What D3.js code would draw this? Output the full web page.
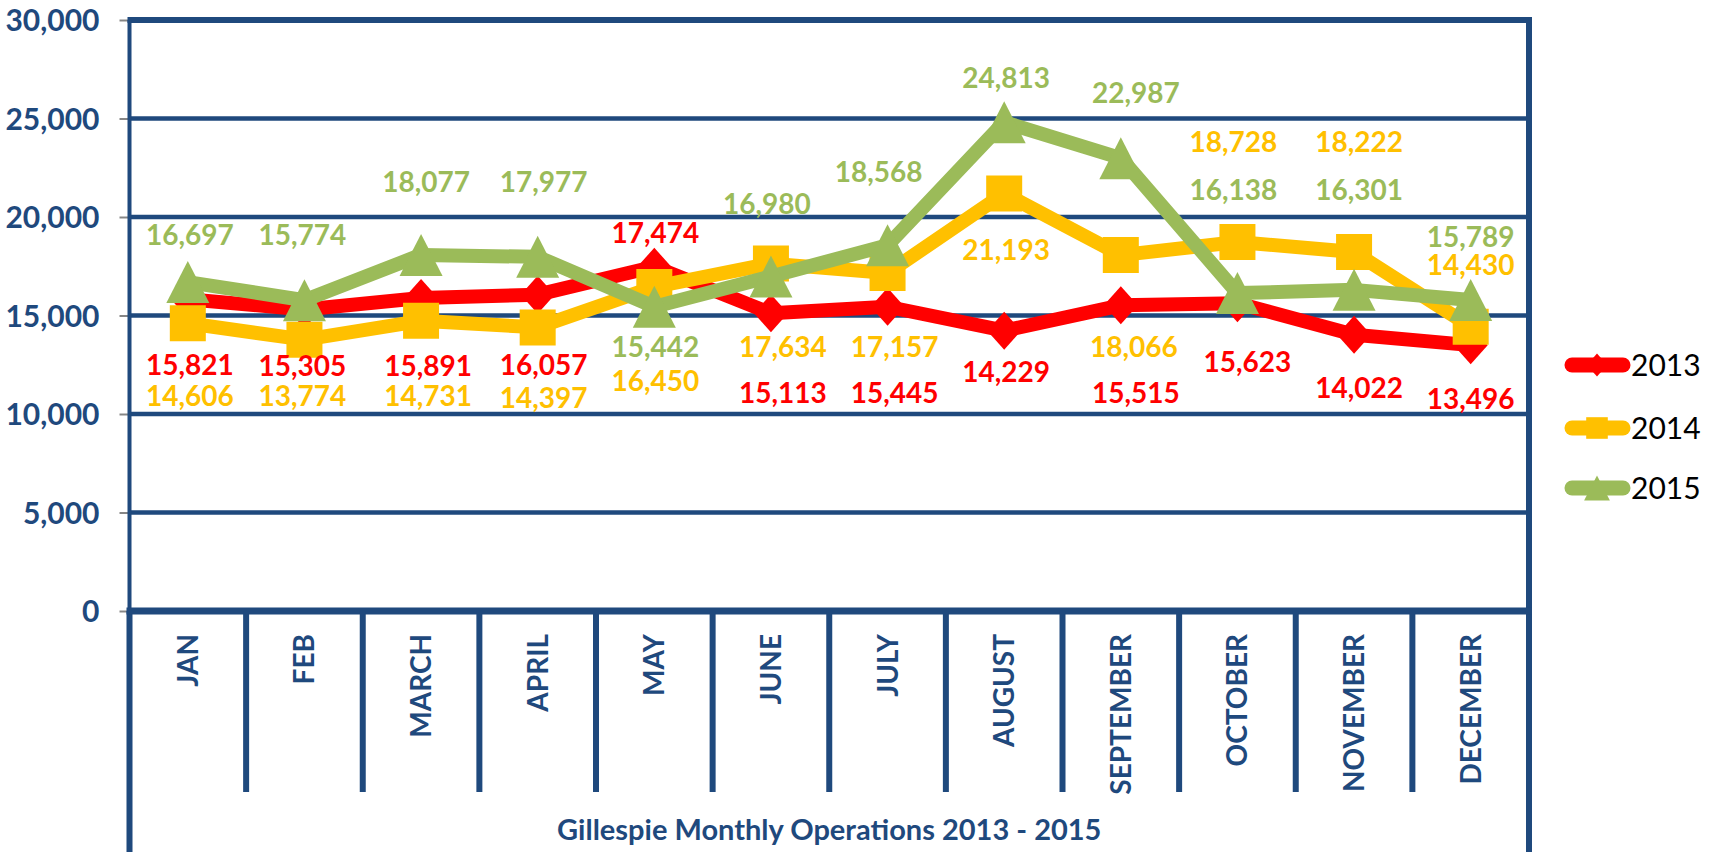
<!DOCTYPE html>
<html>
<head>
<meta charset="utf-8">
<script src="https://cdn.jsdelivr.net/npm/d3@7"></script>
<style>
  body { margin: 0; background: #fff; }
  text { font-family: Lato, "Open Sans", sans-serif; }
</style>
</head>
<body>
<div id="chart"></div>
<script>
// chart data
var months = ["JAN", "FEB", "MARCH", "APRIL", "MAY", "JUNE", "JULY", "AUGUST", "SEPTEMBER", "OCTOBER", "NOVEMBER", "DECEMBER"]
var years = ["2013", "2014", "2015"]
var ops2013 = [15821, 15305, 15891, 16057, 17474, 15113, 15445, 14229, 15515, 15623, 14022, 13496]
var ops2014 = [14606, 13774, 14731, 14397, 16450, 17634, 17157, 21193, 18066, 18728, 18222, 14430]
var ops2015 = [16697, 15774, 18077, 17977, 15442, 16980, 18568, 24813, 22987, 16138, 16301, 15789]
var yTicks = [0, 5000, 10000, 15000, 20000, 25000, 30000]
var title = "Gillespie Monthly Operations 2013 - 2015"

// where excel left each data label (px offset from its point)
var labelDy2013 = [66, 56, 68, 70, -34, 80, 86, 41, 88, 59, 53, 54]
var labelDy2014 = [73, 56, 75, 71, 94, 83, 74, 56, 92, -100, -110, -62]
var labelDy2015 = [-47, -65, -73, -75, 40, -73, -73, -44, -65, -103, -100, -63]
var labelDx2013 = [2, -2, 7, 6, 1, 12, 7, 2, 15, 10, 5, 0]
var labelDx2014 = [2, -2, 7, 6, 1, 12, 7, 2, 13, -4, 5, 0]
var labelDx2015 = [2, -2, 5, 6, 1, -4, -9, 2, 15, -4, 5, 0]

var navy = "#1F497D"
var colors = ["#FF0000", "#FFC000", "#9BBB59"]
var shapes = ["diamond", "square", "triangle"]

var series = [
    { name: years[0], values: ops2013, dx: labelDx2013, dy: labelDy2013 },
    { name: years[1], values: ops2014, dx: labelDx2014, dy: labelDy2014 },
    { name: years[2], values: ops2015, dx: labelDx2015, dy: labelDy2015 }
]

var width = 1721, height = 852
var plotL = 129.5, plotR = 1529, plotT = 20, plotB = 611

var svg = d3.select("#chart").append("svg")
    .attr("width", width)
    .attr("height", height)

var x = d3.scaleBand().domain(months).range([plotL, plotR]).padding(0)
var y = d3.scaleLinear().domain([0, 30000]).range([plotB, plotT])

function cx(i) { return x(months[i]) + x.bandwidth() / 2 }

// gridlines
svg.append("g")
    .selectAll("line")
    .data(yTicks.filter(function (d) { return d > 0 && d < 30000 }))
    .enter()
    .append("line")
    .attr("x1", plotL).attr("x2", plotR)
    .attr("y1", function (d) { return y(d) }).attr("y2", function (d) { return y(d) })
    .attr("stroke", navy)
    .attr("stroke-width", 4.5)

// y axis with little grey ticks
var yAxis = svg.append("g")
    .attr("transform", "translate(" + plotL + ",0)")
    .call(d3.axisLeft(y).tickValues(yTicks).tickSize(10).tickPadding(20).tickFormat(d3.format(",")))
yAxis.select(".domain").remove()
yAxis.selectAll(".tick line").attr("stroke", "#868686").attr("stroke-width", 2)
yAxis.selectAll(".tick text")
    .attr("fill", navy)
    .attr("font-size", 30)
    .attr("font-weight", "bold")
    .attr("dy", "0.36em")

// frame
svg.append("line").attr("x1", plotL - 2).attr("x2", plotR + 3).attr("y1", plotT).attr("y2", plotT)
    .attr("stroke", navy).attr("stroke-width", 6)
svg.append("line").attr("x1", plotL).attr("x2", plotL).attr("y1", plotT).attr("y2", plotB)
    .attr("stroke", navy).attr("stroke-width", 4)
svg.append("line").attr("x1", plotL).attr("x2", plotL).attr("y1", plotB).attr("y2", height)
    .attr("stroke", navy).attr("stroke-width", 6)
svg.append("line").attr("x1", plotR).attr("x2", plotR).attr("y1", plotT - 3).attr("y2", height)
    .attr("stroke", navy).attr("stroke-width", 6)
svg.append("line").attr("x1", plotL - 3).attr("x2", plotR + 3).attr("y1", plotB).attr("y2", plotB)
    .attr("stroke", navy).attr("stroke-width", 7)

// category dividers
svg.append("g")
    .selectAll("line")
    .data(months.slice(1))
    .enter()
    .append("line")
    .attr("x1", function (d) { return x(d) }).attr("x2", function (d) { return x(d) })
    .attr("y1", plotB).attr("y2", 792)
    .attr("stroke", navy)
    .attr("stroke-width", 6)

// month labels
svg.append("g")
    .selectAll("text")
    .data(months)
    .enter()
    .append("text")
    .attr("transform", function (d, i) { return "translate(" + (cx(i) + 10) + ",634) rotate(-90)" })
    .attr("text-anchor", "end")
    .attr("fill", navy)
    .attr("font-size", 28)
    .attr("font-weight", "bold")
    .text(function (d) { return d })

svg.append("text")
    .attr("x", (plotL + plotR) / 2)
    .attr("y", 830)
    .attr("dy", "0.36em")
    .attr("text-anchor", "middle")
    .attr("fill", navy)
    .attr("font-size", 29)
    .attr("font-weight", "bold")
    .text(title)

function markerPath(shape, px, py, s) {
    if (shape == "diamond") {
        var w = 17 * s, h = 19 * s
        return "M" + px + "," + (py - h) + "L" + (px + w) + "," + py + "L" + px + "," + (py + h) + "L" + (px - w) + "," + py + "Z"
    }
    if (shape == "square") {
        var a = 18 * s
        return "M" + (px - a) + "," + (py - a) + "h" + (2 * a) + "v" + (2 * a) + "h" + (-2 * a) + "Z"
    }
    var tw = 21.5 * s, th = 21 * s
    return "M" + px + "," + (py - th) + "L" + (px + tw) + "," + (py + th) + "L" + (px - tw) + "," + (py + th) + "Z"
}

var line = d3.line()
    .x(function (d, i) { return cx(i) })
    .y(function (d) { return y(d) })

series.forEach(function (s, k) {
    var g = svg.append("g")
    g.append("path")
        .attr("d", line(s.values))
        .attr("fill", "none")
        .attr("stroke", colors[k])
        .attr("stroke-width", 14)
        .attr("stroke-linejoin", "round")
    g.selectAll(".mk")
        .data(s.values)
        .enter()
        .append("path")
        .attr("d", function (d, i) { return markerPath(shapes[k], cx(i), y(d), 1) })
        .attr("fill", colors[k])
})

// data labels on top
series.forEach(function (s, k) {
    svg.append("g")
        .selectAll("text")
        .data(s.values)
        .enter()
        .append("text")
        .attr("x", function (d, i) { return cx(i) + s.dx[i] })
        .attr("y", function (d, i) { return y(d) + s.dy[i] })
        .attr("dy", "0.36em")
        .attr("text-anchor", "middle")
        .attr("fill", colors[k])
        .attr("font-size", 28)
        .attr("font-weight", "bold")
        .text(function (d) { return d3.format(",")(d) })
})

// legend
var legend = svg.append("g")
    .selectAll("g")
    .data(series)
    .enter()
    .append("g")
    .attr("transform", function (d, i) { return "translate(0," + [365, 428, 488][i] + ")" })

legend.append("line")
    .attr("x1", 1572).attr("x2", 1623).attr("y1", 0).attr("y2", 0)
    .attr("stroke", function (d, i) { return colors[i] })
    .attr("stroke-width", 15)
    .attr("stroke-linecap", "round")
legend.append("path")
    .attr("d", function (d, i) { return markerPath(shapes[i], 1597, 0, 0.6) })
    .attr("fill", function (d, i) { return colors[i] })
legend.append("text")
    .attr("x", 1631)
    .attr("y", 0)
    .attr("dy", "0.36em")
    .attr("font-size", 30)
    .attr("fill", "#000")
    .text(function (d) { return d.name })
</script>
</body>
</html>
